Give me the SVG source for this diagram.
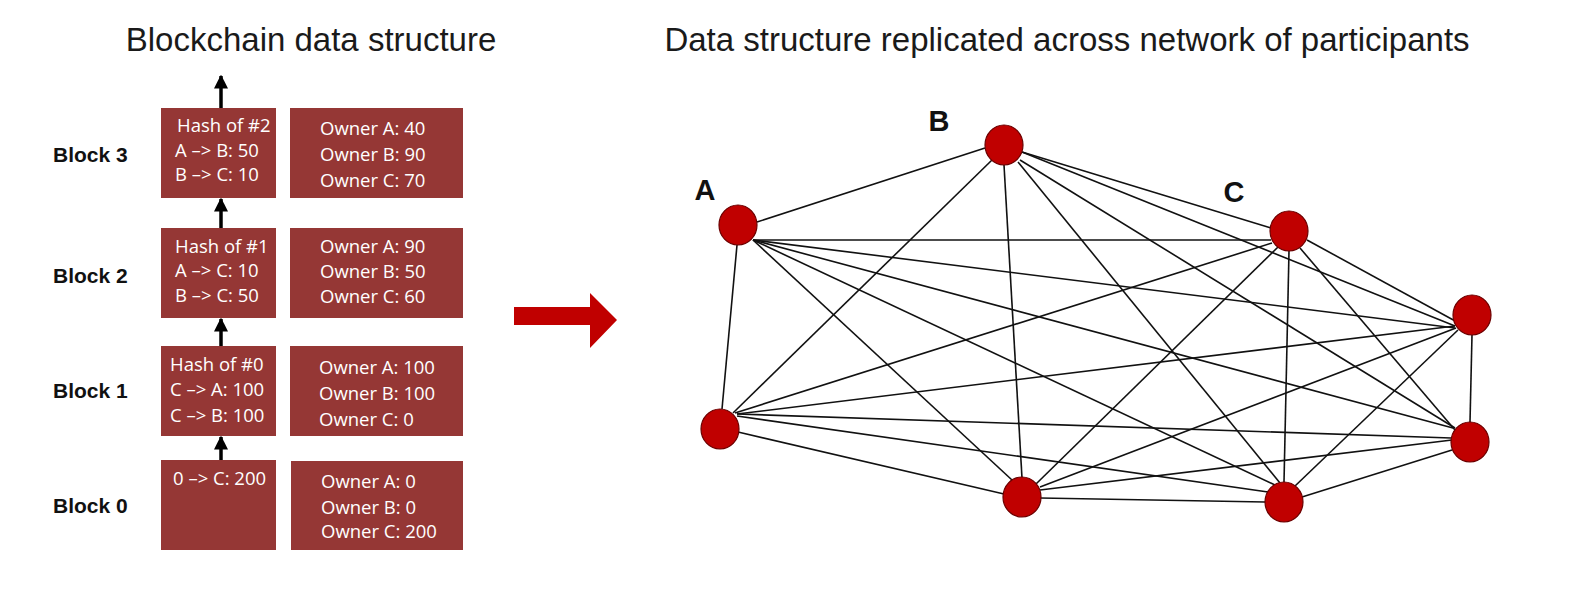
<svg xmlns="http://www.w3.org/2000/svg" width="1570" height="609" viewBox="0 0 1570 609">
<defs>
<style>
.title{font-family:"Liberation Sans",Arial,sans-serif;font-size:33px;fill:#1a1a1a}
.blabel{font-family:"Liberation Sans",Arial,sans-serif;font-size:21px;font-weight:bold;fill:#111}
.nlabel{font-family:"Liberation Sans",Arial,sans-serif;font-size:29px;font-weight:bold;fill:#111}
.box{fill:#953735}
.bt{font-family:"Open Sans","Liberation Sans",sans-serif;font-size:18.5px;fill:#ffffff}
.chain{stroke:#000;stroke-width:3.5;fill:none}
.edge{stroke:#111;stroke-width:1.6}
.node{fill:#c00000;stroke:#6b0000;stroke-width:1.2}
</style>
<marker id="ah" viewBox="0 0 10 10" refX="9" refY="5" markerWidth="4" markerHeight="4" markerUnits="strokeWidth" orient="auto">
<path d="M0,0 L10,5 L0,10 Z" fill="#000"/>
</marker>
</defs>
<rect width="1570" height="609" fill="#ffffff"/>
<text class="title" x="311" y="51" text-anchor="middle">Blockchain data structure</text>
<text class="title" x="1067" y="51" text-anchor="middle">Data structure replicated across network of participants</text>

<g id="chain-arrows">
<line class="chain" x1="221" y1="108" x2="221" y2="76" marker-end="url(#ah)"/>
<line class="chain" x1="221" y1="228" x2="221" y2="199" marker-end="url(#ah)"/>
<line class="chain" x1="221" y1="346" x2="221" y2="319" marker-end="url(#ah)"/>
<line class="chain" x1="221" y1="460" x2="221" y2="437" marker-end="url(#ah)"/>
</g>

<g id="block3">
<text class="blabel" x="53" y="162">Block 3</text>
<rect class="box" x="161" y="108" width="115" height="90"/>
<rect class="box" x="290" y="108" width="173" height="90"/>
<text class="bt" x="177" y="132">Hash of #2</text>
<text class="bt" x="175" y="157">A –&gt; B: 50</text>
<text class="bt" x="175" y="181">B –&gt; C: 10</text>
<text class="bt" x="320" y="135">Owner A: 40</text>
<text class="bt" x="320" y="161">Owner B: 90</text>
<text class="bt" x="320" y="187">Owner C: 70</text>
</g>

<g id="block2">
<text class="blabel" x="53" y="283">Block 2</text>
<rect class="box" x="161" y="228" width="115" height="90"/>
<rect class="box" x="290" y="228" width="173" height="90"/>
<text class="bt" x="175" y="253">Hash of #1</text>
<text class="bt" x="175" y="277">A –&gt; C: 10</text>
<text class="bt" x="175" y="302">B –&gt; C: 50</text>
<text class="bt" x="320" y="253">Owner A: 90</text>
<text class="bt" x="320" y="278">Owner B: 50</text>
<text class="bt" x="320" y="303">Owner C: 60</text>
</g>

<g id="block1">
<text class="blabel" x="53" y="398">Block 1</text>
<rect class="box" x="161" y="346" width="115" height="90"/>
<rect class="box" x="290" y="346" width="173" height="90"/>
<text class="bt" x="170" y="371">Hash of #0</text>
<text class="bt" x="170" y="396">C –&gt; A: 100</text>
<text class="bt" x="170" y="422">C –&gt; B: 100</text>
<text class="bt" x="319" y="374">Owner A: 100</text>
<text class="bt" x="319" y="400">Owner B: 100</text>
<text class="bt" x="319" y="426">Owner C: 0</text>
</g>

<g id="block0">
<text class="blabel" x="53" y="513">Block 0</text>
<rect class="box" x="161" y="460" width="115" height="90"/>
<rect class="box" x="291" y="461" width="172" height="89"/>
<text class="bt" x="173" y="485">0 –&gt; C: 200</text>
<text class="bt" x="321" y="488">Owner A: 0</text>
<text class="bt" x="321" y="514">Owner B: 0</text>
<text class="bt" x="321" y="538">Owner C: 200</text>
</g>

<g id="big-arrow">
<path d="M514,307 L590,307 L590,293 L617,320 L590,348 L590,325 L514,325 Z" fill="#c00000"/>
</g>

<g id="connectors">
<line class="edge" x1="757" y1="222" x2="985" y2="148"/>
<line class="edge" x1="753" y1="240" x2="1271" y2="240"/>
<line class="edge" x1="753" y1="240" x2="1455" y2="328"/>
<line class="edge" x1="753" y1="240" x2="1453" y2="428"/>
<line class="edge" x1="753" y1="240" x2="1275" y2="485"/>
<line class="edge" x1="753" y1="240" x2="1012" y2="480"/>
<line class="edge" x1="737" y1="245" x2="722" y2="409"/>
<line class="edge" x1="1022" y1="152" x2="1271" y2="228"/>
<line class="edge" x1="1022" y1="152" x2="1455" y2="326"/>
<line class="edge" x1="1020" y1="160" x2="1455" y2="428"/>
<line class="edge" x1="1018" y1="162" x2="1280" y2="483"/>
<line class="edge" x1="1004" y1="165" x2="1022" y2="478"/>
<line class="edge" x1="992" y1="160" x2="733" y2="413"/>
<line class="edge" x1="1307" y1="240" x2="1457" y2="322"/>
<line class="edge" x1="1300" y1="248" x2="1455" y2="430"/>
<line class="edge" x1="1289" y1="251" x2="1284" y2="482"/>
<line class="edge" x1="1278" y1="247" x2="1036" y2="484"/>
<line class="edge" x1="1272" y1="243" x2="735" y2="413"/>
<line class="edge" x1="1472" y1="335" x2="1470" y2="422"/>
<line class="edge" x1="1458" y1="330" x2="1295" y2="486"/>
<line class="edge" x1="1456" y1="328" x2="1040" y2="487"/>
<line class="edge" x1="1455" y1="326" x2="737" y2="414"/>
<line class="edge" x1="1452" y1="450" x2="1302" y2="497"/>
<line class="edge" x1="1452" y1="440" x2="1040" y2="490"/>
<line class="edge" x1="1451" y1="438" x2="737" y2="414"/>
<line class="edge" x1="1265" y1="502" x2="1040" y2="498"/>
<line class="edge" x1="1268" y1="492" x2="737" y2="416"/>
<line class="edge" x1="1004" y1="494" x2="738" y2="432"/>
</g>

<g id="node-A"><ellipse class="node" cx="738" cy="225" rx="19" ry="20"/><text class="nlabel" x="705" y="200" text-anchor="middle">A</text></g>
<g id="node-B"><ellipse class="node" cx="1004" cy="145" rx="19" ry="20"/><text class="nlabel" x="939" y="131" text-anchor="middle">B</text></g>
<g id="node-C"><ellipse class="node" cx="1289" cy="231" rx="19" ry="20"/><text class="nlabel" x="1234" y="202" text-anchor="middle">C</text></g>
<g id="node-R1"><ellipse class="node" cx="1472" cy="315" rx="19" ry="20"/></g>
<g id="node-R2"><ellipse class="node" cx="1470" cy="442" rx="19" ry="20"/></g>
<g id="node-BR"><ellipse class="node" cx="1284" cy="502" rx="19" ry="20"/></g>
<g id="node-BM"><ellipse class="node" cx="1022" cy="497" rx="19" ry="20"/></g>
<g id="node-L"><ellipse class="node" cx="720" cy="429" rx="19" ry="20"/></g>
</svg>
